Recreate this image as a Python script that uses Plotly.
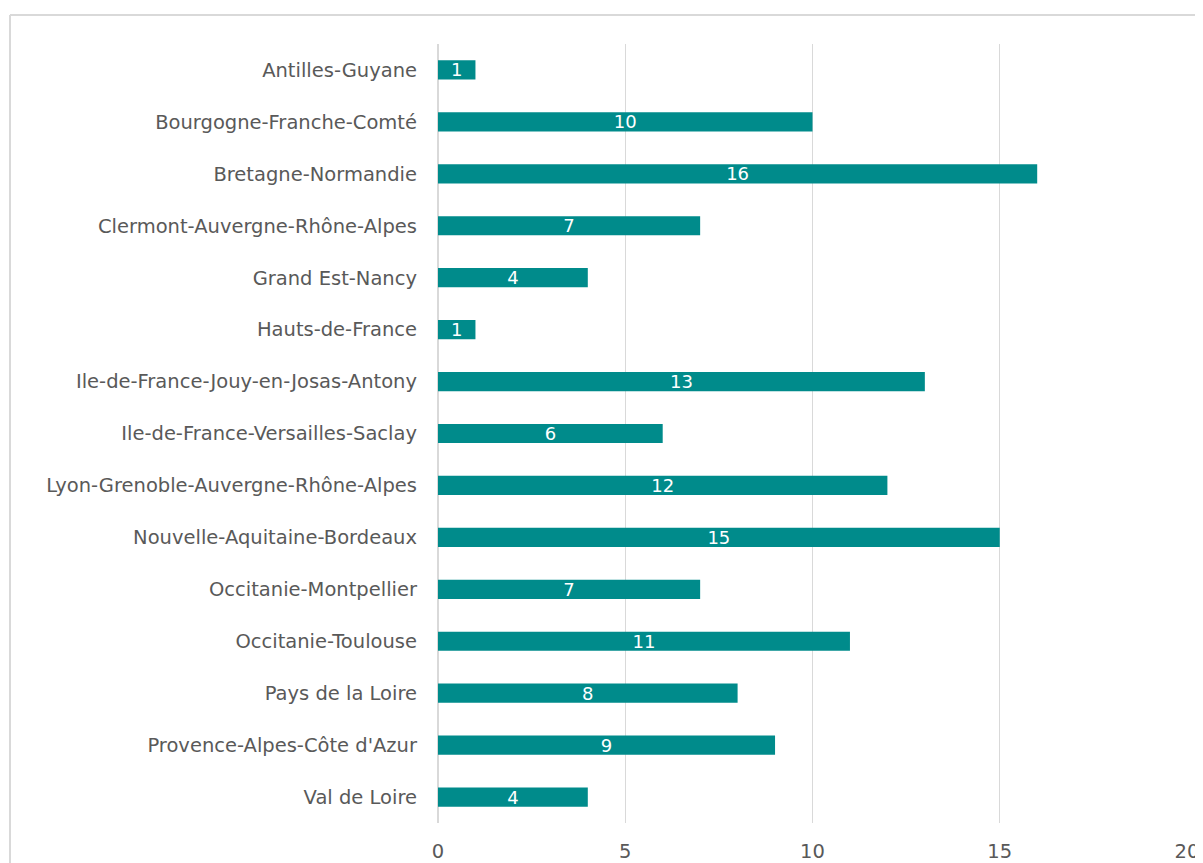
import plotly.graph_objects as go

regions = [
    "Antilles-Guyane",
    "Bourgogne-Franche-Comté",
    "Bretagne-Normandie",
    "Clermont-Auvergne-Rhône-Alpes",
    "Grand Est-Nancy",
    "Hauts-de-France",
    "Ile-de-France-Jouy-en-Josas-Antony",
    "Ile-de-France-Versailles-Saclay",
    "Lyon-Grenoble-Auvergne-Rhône-Alpes",
    "Nouvelle-Aquitaine-Bordeaux",
    "Occitanie-Montpellier",
    "Occitanie-Toulouse",
    "Pays de la Loire",
    "Provence-Alpes-Côte d'Azur",
    "Val de Loire",
]
counts = [1, 10, 16, 7, 4, 1, 13, 6, 12, 15, 7, 11, 8, 9, 4]
x_ticks = [0, 5, 10, 15, 20]

teal = "#008B8B"
grey_text = "#595959"

fig = go.Figure(
    go.Bar(
        x=counts,
        y=regions,
        orientation="h",
        marker=dict(color=teal, line=dict(width=0)),
        text=counts,
        textposition="inside",
        insidetextanchor="middle",
        textangle=0,
        constraintext="none",
        textfont=dict(color="white", size=18, family="DejaVu Sans"),
        cliponaxis=False,
    )
)

# page body has an 8px margin, so the figure sits 8px right/down
fig.update_layout(
    width=1203,
    height=863,
    margin=dict(l=430, r=24, t=36, b=48),
    paper_bgcolor="white",
    plot_bgcolor="white",
    bargap=0.63,
    showlegend=False,
    font=dict(family="DejaVu Sans", size=19, color=grey_text),
    xaxis=dict(
        range=[0, 20],
        tickvals=x_ticks,
        showgrid=True,
        gridcolor="#d9d9d9",
        gridwidth=1,
        zeroline=True,
        zerolinecolor="#d9d9d9",
        showline=False,
        ticks="",
        tickfont=dict(size=19.5, color=grey_text),
        ticklabelstandoff=14,
        automargin=False,
    ),
    yaxis=dict(
        autorange="reversed",
        showgrid=False,
        ticks="",
        tickfont=dict(size=19.5, color=grey_text),
        ticklabelstandoff=20,
        automargin=False,
    ),
    shapes=[
        # chart-area frame (left and top edges; the rest is cropped)
        dict(type="line", xref="paper", yref="paper",
             x0=-428 / 749, x1=1.1, y0=1 + 29 / 779, y1=1 + 29 / 779,
             line=dict(color="#d9d9d9", width=2)),
        dict(type="line", xref="paper", yref="paper",
             x0=-428 / 749, x1=-428 / 749, y0=1 + 29 / 779, y1=-0.1,
             line=dict(color="#d9d9d9", width=2)),
    ],
)

fig.write_html("out.html")
